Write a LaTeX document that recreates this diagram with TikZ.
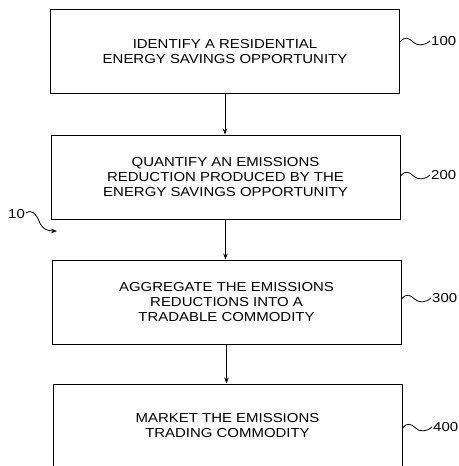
\documentclass[tikz,border=0pt]{standalone}
\usepackage{fontspec}
\setmainfont[FakeStretch=1.15]{Liberation Sans}
\usetikzlibrary{arrows.meta,calc}
\tikzset{
  stepbox/.style={draw, line width=1pt, minimum width=349pt, minimum height=84pt, align=center, font=\fontsize{13}{15}\selectfont, inner sep=0pt},
  reflabel/.style={font=\fontsize{13}{15}\selectfont, inner sep=0pt, anchor=west},
  arr/.style={line width=0.8pt, -{Stealth[length=6pt,width=4.5pt]}},
  squig/.style={line width=0.8pt}
}
\begin{document}
\begin{tikzpicture}[x=1pt,y=-1pt]
\useasboundingbox (0,0) rectangle (458,466);
\clip (0,0) rectangle (458,466);
\node[stepbox] (b1) at (225,51.5) {IDENTIFY A RESIDENTIAL\\ENERGY SAVINGS OPPORTUNITY};
\node[stepbox] (b2) at (225.5,177) {QUANTIFY AN EMISSIONS\\REDUCTION PRODUCED BY THE\\ENERGY SAVINGS OPPORTUNITY};
\node[stepbox] (b3) at (226.5,302) {AGGREGATE THE EMISSIONS\\REDUCTIONS INTO A\\TRADABLE COMMODITY};
\node[stepbox] (b4) at (227.5,426) {MARKET THE EMISSIONS\\TRADING COMMODITY};

\draw[arr] (b1.south) -- (b1.south |- b2.north);
\draw[arr] (b2.south) -- (b2.south |- b3.north);
\draw[arr] (b3.south) -- (b3.south |- b4.north);

\node[reflabel] (l1) at (431,41) {100};
\node[reflabel] (l2) at (431,175) {200};
\node[reflabel] (l3) at (432,298) {300};
\node[reflabel] (l4) at (433,427) {400};

\foreach \b/\l in {b1/l1,b2/l2,b3/l3,b4/l4}{
  \coordinate (s) at (\b.east |- \l.west);
  \draw[squig] ($(s)+(0,1)$) .. controls ($(s)+(5,-5)$) and ($(s)+(9,-3)$) .. ($(s)+(13,1)$)
     .. controls ($(s)+(17,5)$) and ($(s)+(24,5)$) .. ($(\l.west)+(-1,0)$);
}

\node[reflabel] (l10) at (8,214) {10};
\coordinate (t10) at (57,231);
\draw[arr] ($(l10.east)+(1,-1)$) .. controls (32,209) and (36,214) .. (39,221)
   .. controls (42,229) and (47,231) .. (t10);
\end{tikzpicture}
\end{document}
